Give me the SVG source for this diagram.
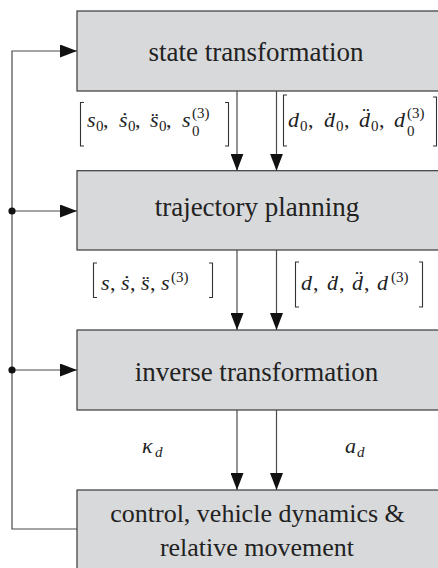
<svg xmlns="http://www.w3.org/2000/svg" width="438" height="568" viewBox="0 0 438 568">
<style>
.box{fill:#d8d9db;stroke:#3a3a3a;stroke-width:1.2}
.t{font-size:27px;fill:#222;text-anchor:middle}
.t2{font-size:26px;fill:#222;text-anchor:middle}
.m{font-size:22px;font-style:italic;fill:#222}
.r{font-size:22px;fill:#222}
.s{font-size:15px;fill:#222}
.si{font-size:15px;font-style:italic;fill:#222}
.ln{fill:none;stroke:#4a4a4a;stroke-width:1.2}
.br{fill:none;stroke:#333;stroke-width:1.1}
</style>
<defs>
<marker id="ah" markerUnits="userSpaceOnUse" markerWidth="18" markerHeight="13" refX="17" refY="6.5" orient="auto">
<path d="M0,0 L17,6.5 L0,13 z" fill="#111"/>
</marker>
</defs>
<g id="n1">
<rect class="box" x="77" y="11" width="362" height="80"/>
<text class="t" font-family="Liberation Serif" x="256" y="61">state transformation</text>
</g>
<g id="n2">
<rect class="box" x="77" y="170.7" width="362" height="79.3"/>
<text class="t" font-family="Liberation Serif" x="257" y="215.5">trajectory planning</text>
</g>
<g id="n3">
<rect class="box" x="77" y="330" width="362" height="80"/>
<text class="t" font-family="Liberation Serif" x="256.5" y="380.5">inverse transformation</text>
</g>
<g id="n4">
<rect class="box" x="77" y="490" width="362" height="90"/>
<text class="t2" font-family="Liberation Serif" x="257.5" y="521.5">control, vehicle dynamics &amp;</text>
<text class="t2" font-family="Liberation Serif" x="257" y="555.5">relative movement</text>
</g>
<g id="connectors">
<path class="ln" d="M237,91 V170.7" marker-end="url(#ah)"/>
<path class="ln" d="M276.5,91 V170.7" marker-end="url(#ah)"/>
<path class="ln" d="M237,250 V330" marker-end="url(#ah)"/>
<path class="ln" d="M276.5,250 V330" marker-end="url(#ah)"/>
<path class="ln" d="M237,410 V490" marker-end="url(#ah)"/>
<path class="ln" d="M276.5,410 V490" marker-end="url(#ah)"/>
<path class="ln" d="M77,529 H12 V51 H77" marker-end="url(#ah)"/>
<path class="ln" d="M12,211 H77" marker-end="url(#ah)"/>
<path class="ln" d="M12,370 H77" marker-end="url(#ah)"/>
<circle cx="12" cy="211" r="3.6" fill="#111"/>
<circle cx="12" cy="370" r="3.6" fill="#111"/>
</g>
<g id="label-s0">
<path class="br" d="M84,102.5 H80.5 V146 H84"/>
<path class="br" d="M225,102.5 H228.5 V146 H225"/>
<text class="m" font-family="Liberation Serif" x="87" y="127">s</text><text class="s" font-family="Liberation Serif" x="96" y="131">0</text><text class="r" font-family="Liberation Serif" x="103" y="127">,</text>
<text class="m" font-family="Liberation Serif" x="119" y="127">ṡ</text><text class="s" font-family="Liberation Serif" x="128" y="131">0</text><text class="r" font-family="Liberation Serif" x="135" y="127">,</text>
<text class="m" font-family="Liberation Serif" x="150" y="127">s̈</text><text class="s" font-family="Liberation Serif" x="159" y="131">0</text><text class="r" font-family="Liberation Serif" x="166" y="127">,</text>
<text class="m" font-family="Liberation Serif" x="182" y="127">s</text><text class="s" font-family="Liberation Serif" x="192" y="118">(3)</text><text class="s" font-family="Liberation Serif" x="192" y="136">0</text>
</g>
<g id="label-d0">
<path class="br" d="M287,95 H283.5 V146 H287"/>
<path class="br" d="M433,97 H436.5 V146 H433"/>
<text class="m" font-family="Liberation Serif" x="288" y="127">d</text><text class="s" font-family="Liberation Serif" x="300" y="131">0</text><text class="r" font-family="Liberation Serif" x="308" y="127">,</text>
<text class="m" font-family="Liberation Serif" x="324" y="127">ḋ</text><text class="s" font-family="Liberation Serif" x="336" y="131">0</text><text class="r" font-family="Liberation Serif" x="344" y="127">,</text>
<text class="m" font-family="Liberation Serif" x="359" y="127">d̈</text><text class="s" font-family="Liberation Serif" x="371" y="131">0</text><text class="r" font-family="Liberation Serif" x="379" y="127">,</text>
<text class="m" font-family="Liberation Serif" x="394" y="127">d</text><text class="s" font-family="Liberation Serif" x="407" y="118">(3)</text><text class="s" font-family="Liberation Serif" x="407" y="136">0</text>
</g>
<g id="label-s">
<path class="br" d="M97,263 H93.5 V297.5 H97"/>
<path class="br" d="M209,263 H212.5 V297.5 H209"/>
<text class="m" font-family="Liberation Serif" x="101" y="290">s</text><text class="r" font-family="Liberation Serif" x="110" y="290">,</text>
<text class="m" font-family="Liberation Serif" x="121" y="290">ṡ</text><text class="r" font-family="Liberation Serif" x="130" y="290">,</text>
<text class="m" font-family="Liberation Serif" x="141" y="290">s̈</text><text class="r" font-family="Liberation Serif" x="150" y="290">,</text>
<text class="m" font-family="Liberation Serif" x="161" y="290">s</text><text class="s" font-family="Liberation Serif" x="171" y="282">(3)</text>
</g>
<g id="label-d">
<path class="br" d="M299,262 H295.5 V307 H299"/>
<path class="br" d="M419,262 H422.5 V307 H419"/>
<text class="m" font-family="Liberation Serif" x="301" y="290">d</text><text class="r" font-family="Liberation Serif" x="313" y="290">,</text>
<text class="m" font-family="Liberation Serif" x="327" y="290">ḋ</text><text class="r" font-family="Liberation Serif" x="339" y="290">,</text>
<text class="m" font-family="Liberation Serif" x="352" y="290">d̈</text><text class="r" font-family="Liberation Serif" x="364" y="290">,</text>
<text class="m" font-family="Liberation Serif" x="377" y="290">d</text><text class="s" font-family="Liberation Serif" x="391" y="282">(3)</text>
</g>
<g id="label-kd">
<text class="m" font-family="Liberation Serif" x="142" y="453">κ</text><text class="si" font-family="Liberation Serif" x="155" y="457">d</text>
</g>
<g id="label-ad">
<text class="m" font-family="Liberation Serif" x="345" y="453">a</text><text class="si" font-family="Liberation Serif" x="357" y="457">d</text>
</g>
</svg>
